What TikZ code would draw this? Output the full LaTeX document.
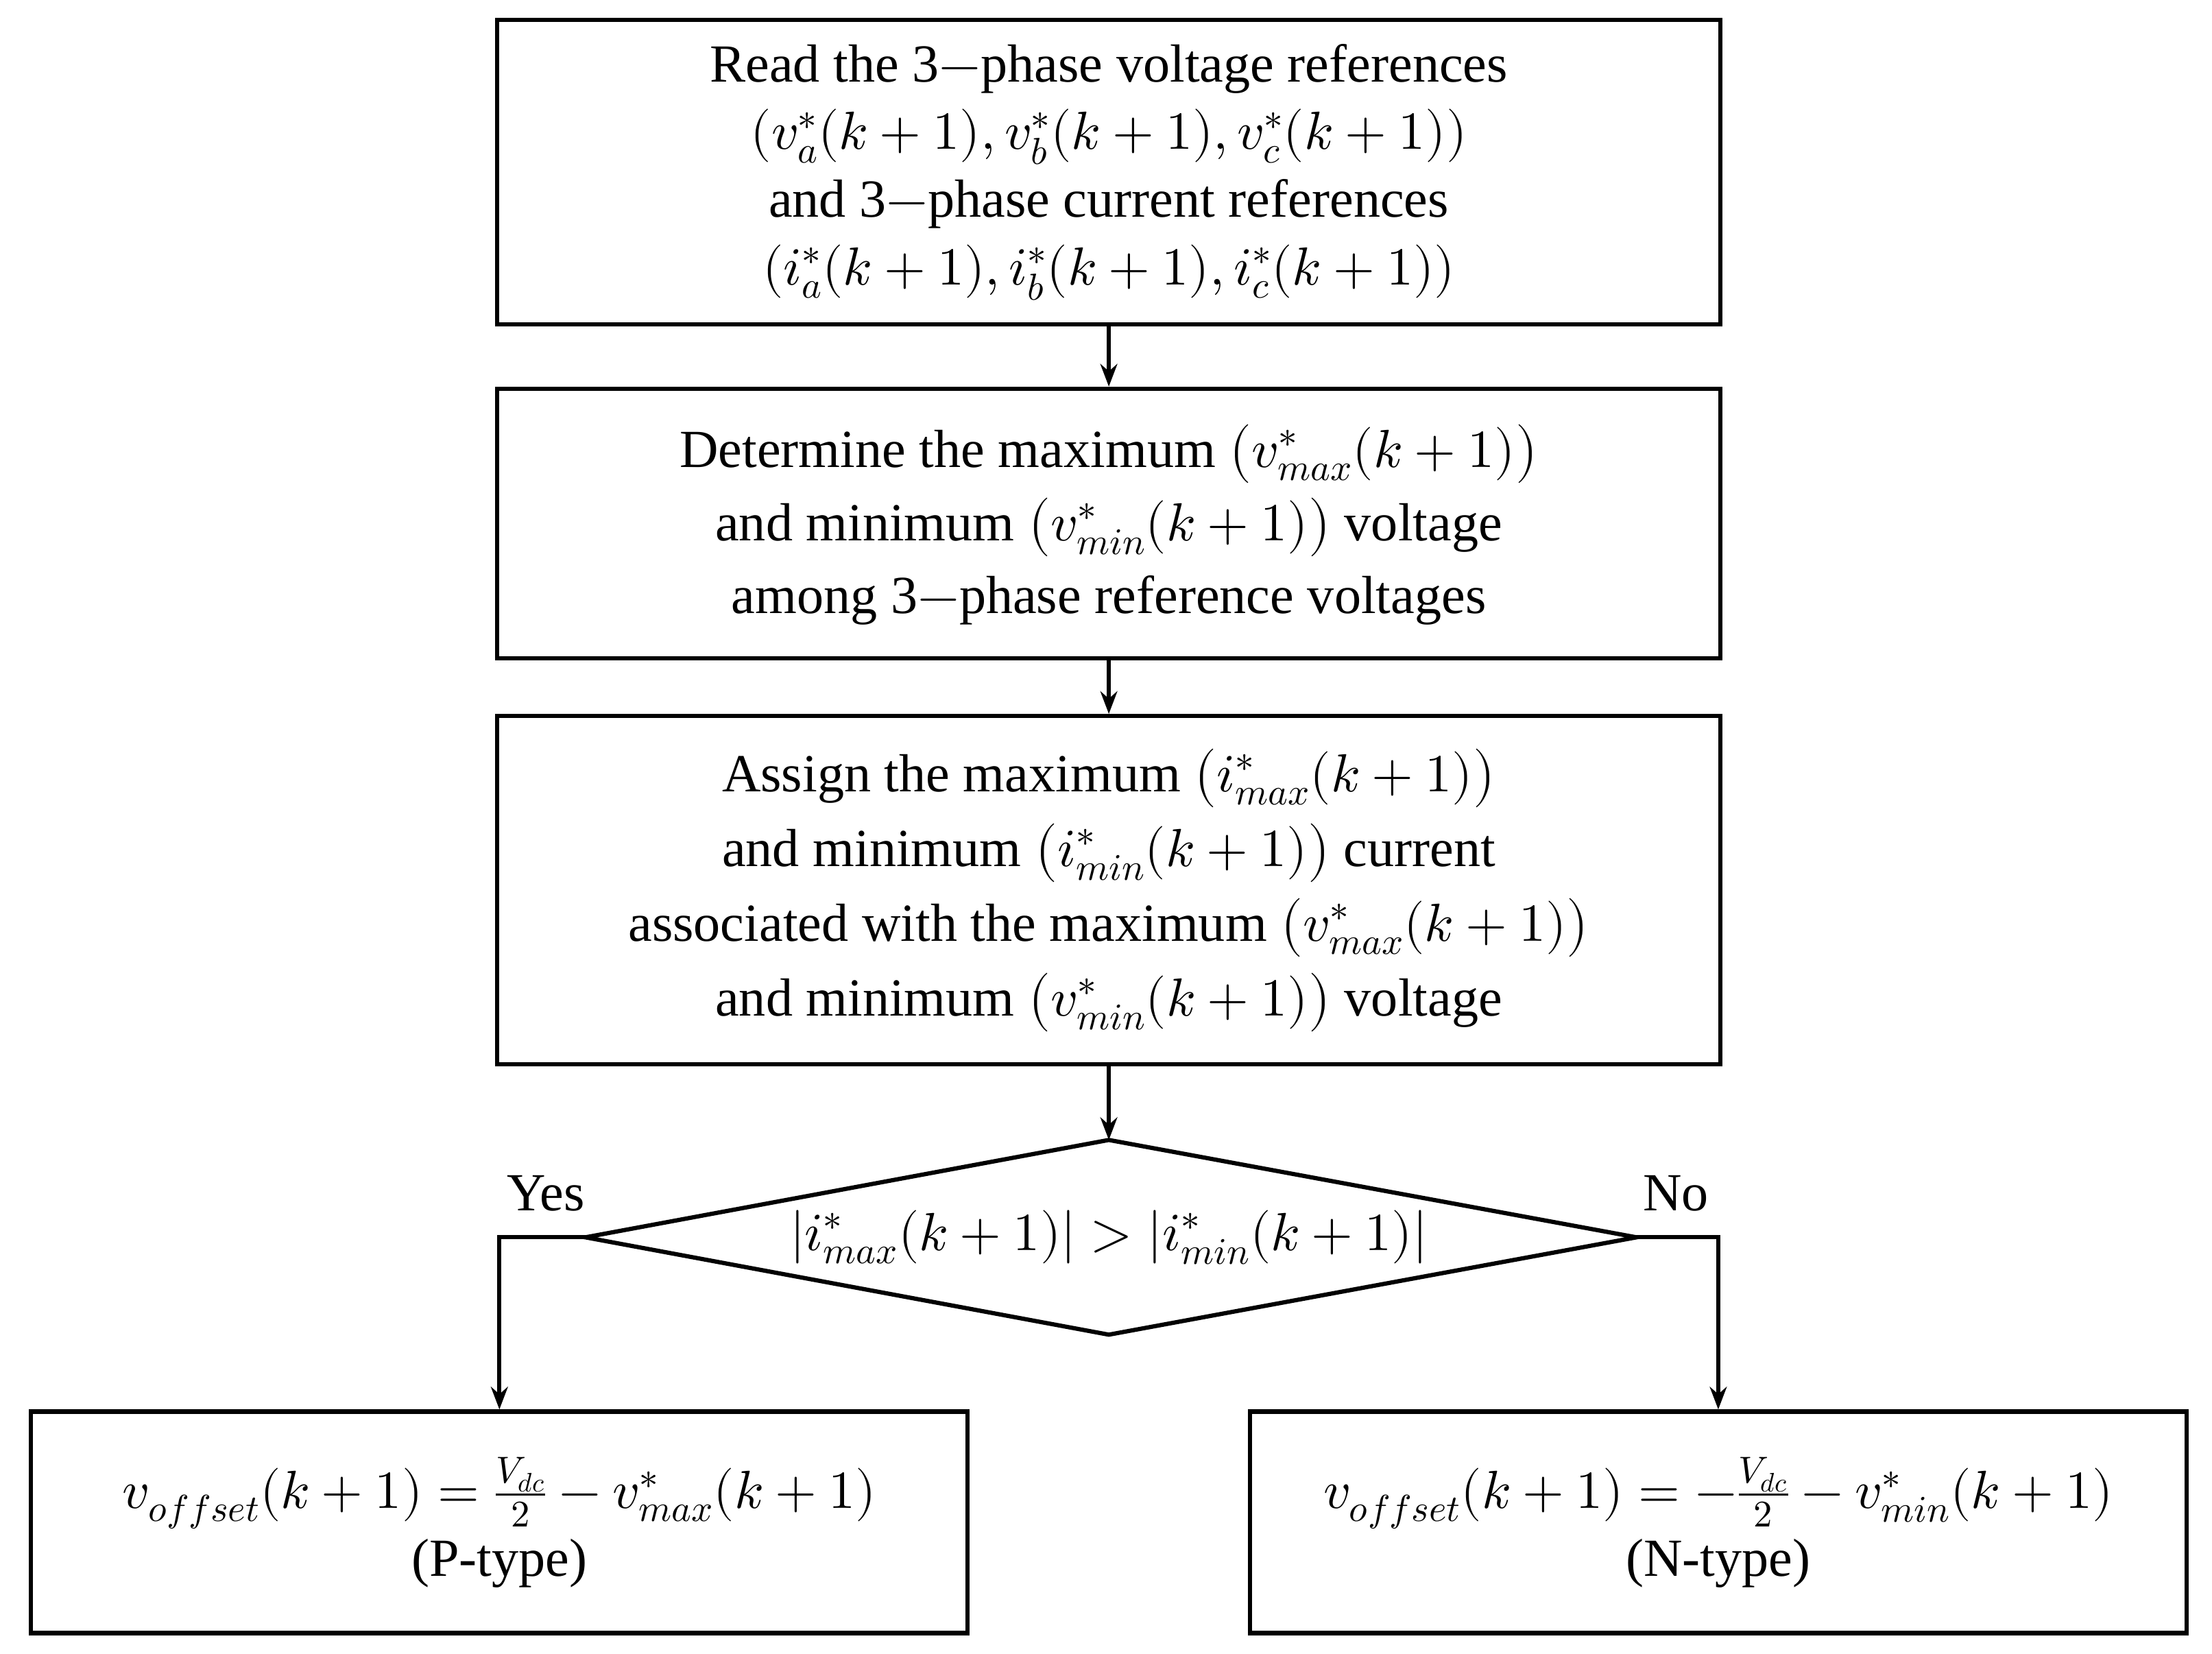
\documentclass[tikz,border=0pt]{standalone}
\usepackage{fontspec}
\usepackage{unicode-math}
\setmainfont{Liberation Serif}
\setmathfont{Latin Modern Math}
\usetikzlibrary{arrows.meta}
\begin{document}
\begin{tikzpicture}[x=1pt,y=-1pt,
  box/.style={draw,line width=3pt,align=center,inner sep=0pt,font=\fontsize{38}{48}\selectfont},
  arr/.style={line width=3pt,-{Stealth[length=16pt,width=12pt]}},
  lbl/.style={font=\fontsize{38}{44}\selectfont}]
\useasboundingbox (0,0) rectangle (1568,1172);
\node[box,minimum width=867pt,minimum height=216pt] (b1) at (786,122) {Read the 3$-$phase voltage references\\ $(v_a^*(k+1),v_b^*(k+1),v_c^*(k+1))$\\ and 3$-$phase current references\\ $(i_a^*(k+1),i_b^*(k+1),i_c^*(k+1))$};
\node[box,minimum width=867pt,minimum height=191pt,font=\fontsize{38}{52}\selectfont] (b2) at (786,371) {Determine the maximum $\bigl(v^*_{max}(k+1)\bigr)$\\ and minimum $\bigl(v^*_{min}(k+1)\bigr)$ voltage\\ among 3$-$phase reference voltages};
\node[box,minimum width=867pt,minimum height=247pt,font=\fontsize{38}{53}\selectfont] (b3) at (786,631) {Assign the maximum $\bigl(i^*_{max}(k+1)\bigr)$\\ and minimum $\bigl(i^*_{min}(k+1)\bigr)$ current\\ associated with the maximum $\bigl(v^*_{max}(k+1)\bigr)$\\ and minimum $\bigl(v^*_{min}(k+1)\bigr)$ voltage};
\coordinate (dt) at (786,808);
\coordinate (db) at (786,946);
\coordinate (dl) at (415,877);
\coordinate (dr) at (1160,877);
\draw[line width=3pt,line join=miter] (dt)--(dr)--(db)--(dl)--cycle;
\node[lbl] (dtext) at (786,877) {$|i^*_{max}(k+1)|>|i^*_{min}(k+1)|$};
\node[box,minimum width=664pt,minimum height=157pt] (bl) at (354,1079) {$v_{offset}(k+1)=\frac{V_{dc}}{2}-v^*_{max}(k+1)$\\ (P-type)};
\node[box,minimum width=664pt,minimum height=157pt] (br) at (1218,1079) {$v_{offset}(k+1)=-\frac{V_{dc}}{2}-v^*_{min}(k+1)$\\ (N-type)};
\draw[arr] (b1.south)--(b2.north);
\draw[arr] (b2.south)--(b3.north);
\draw[arr] (b3.south)--(dt);
\draw[arr] (dl)-|(bl.north);
\draw[arr] (dr)-|(br.north);
\node[lbl] (yes) at (387,846) {Yes};
\node[lbl] (no) at (1188,846) {No};
\end{tikzpicture}
\end{document}
